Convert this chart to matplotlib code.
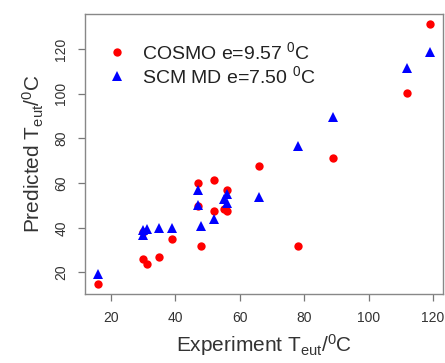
import matplotlib
matplotlib.use("Agg")
import matplotlib.pyplot as plt

plt.rcParams['font.family'] = ['Liberation Sans', 'DejaVu Sans']
plt.rcParams['mathtext.fontset'] = 'custom'
plt.rcParams['mathtext.rm'] = 'Liberation Sans'
plt.rcParams['mathtext.it'] = 'Liberation Sans'

cosmo_x = [16, 30, 30, 31, 35, 39, 47, 47, 48, 52, 52, 55, 56, 56, 66, 78, 89, 112, 119]
cosmo_y = [15, 26, 38, 23.6, 27, 35, 60.2, 49.8, 32, 61.3, 47.5, 48.4, 57.1, 47.7, 67.7, 32, 71.1, 100.5, 131]
scm_x = [16, 30, 30, 31, 35, 39, 47, 47, 48, 52, 55, 56, 56, 66, 78, 89, 112, 119]
scm_y = [19.1, 36.7, 38.9, 39.4, 40, 40, 56.7, 50.1, 41, 43.8, 53.1, 55.3, 51.3, 53.8, 76.5, 89.6, 111.4, 118.7]
xticks = [20, 40, 60, 80, 100, 120]
yticks = [20, 40, 60, 80, 100, 120]
labels = ["COSMO e=9.57 $^0$C", "SCM MD e=7.50 $^0$C"]

fig = plt.figure(figsize=(4.45, 3.63), dpi=100)
ax = fig.add_axes([0.191, 0.190, 0.8045, 0.7714])

ax.plot(cosmo_x, cosmo_y, 'o', color='#ff0000', markersize=6, markeredgewidth=0, label=labels[0])
ax.plot(scm_x, scm_y, '^', color='#0000ff', markersize=7, markeredgewidth=0, label=labels[1])

ax.set_xlim(11.88, 123.12)
ax.set_ylim(10.36, 135.64)
ax.set_xticks(xticks)
ax.set_yticks(yticks)
ax.tick_params(axis='both', direction='out', length=5, width=0.9, color='#777777',
               labelsize=10, labelcolor='#333333', pad=7)
for lab in ax.get_yticklabels():
    lab.set_rotation(90)
    lab.set_va('center')
for s in ax.spines.values():
    s.set_color('#888888')
    s.set_linewidth(1.0)

ax.set_xlabel("Experiment T$_{\\rm eut}$/$^{0}$C", fontsize=15, color='#333333', labelpad=5)
ax.set_ylabel("Predicted T$_{\\rm eut}$/$^{0}$C", fontsize=15, color='#333333', labelpad=6)

leg = ax.legend(loc='upper left', bbox_to_anchor=(0.04, 0.93), frameon=False, fontsize=14,
                handletextpad=0.8, labelspacing=0.1, borderaxespad=0, handlelength=1.0,
                labelcolor='#222222')

fig.savefig("out.png", dpi=100)
